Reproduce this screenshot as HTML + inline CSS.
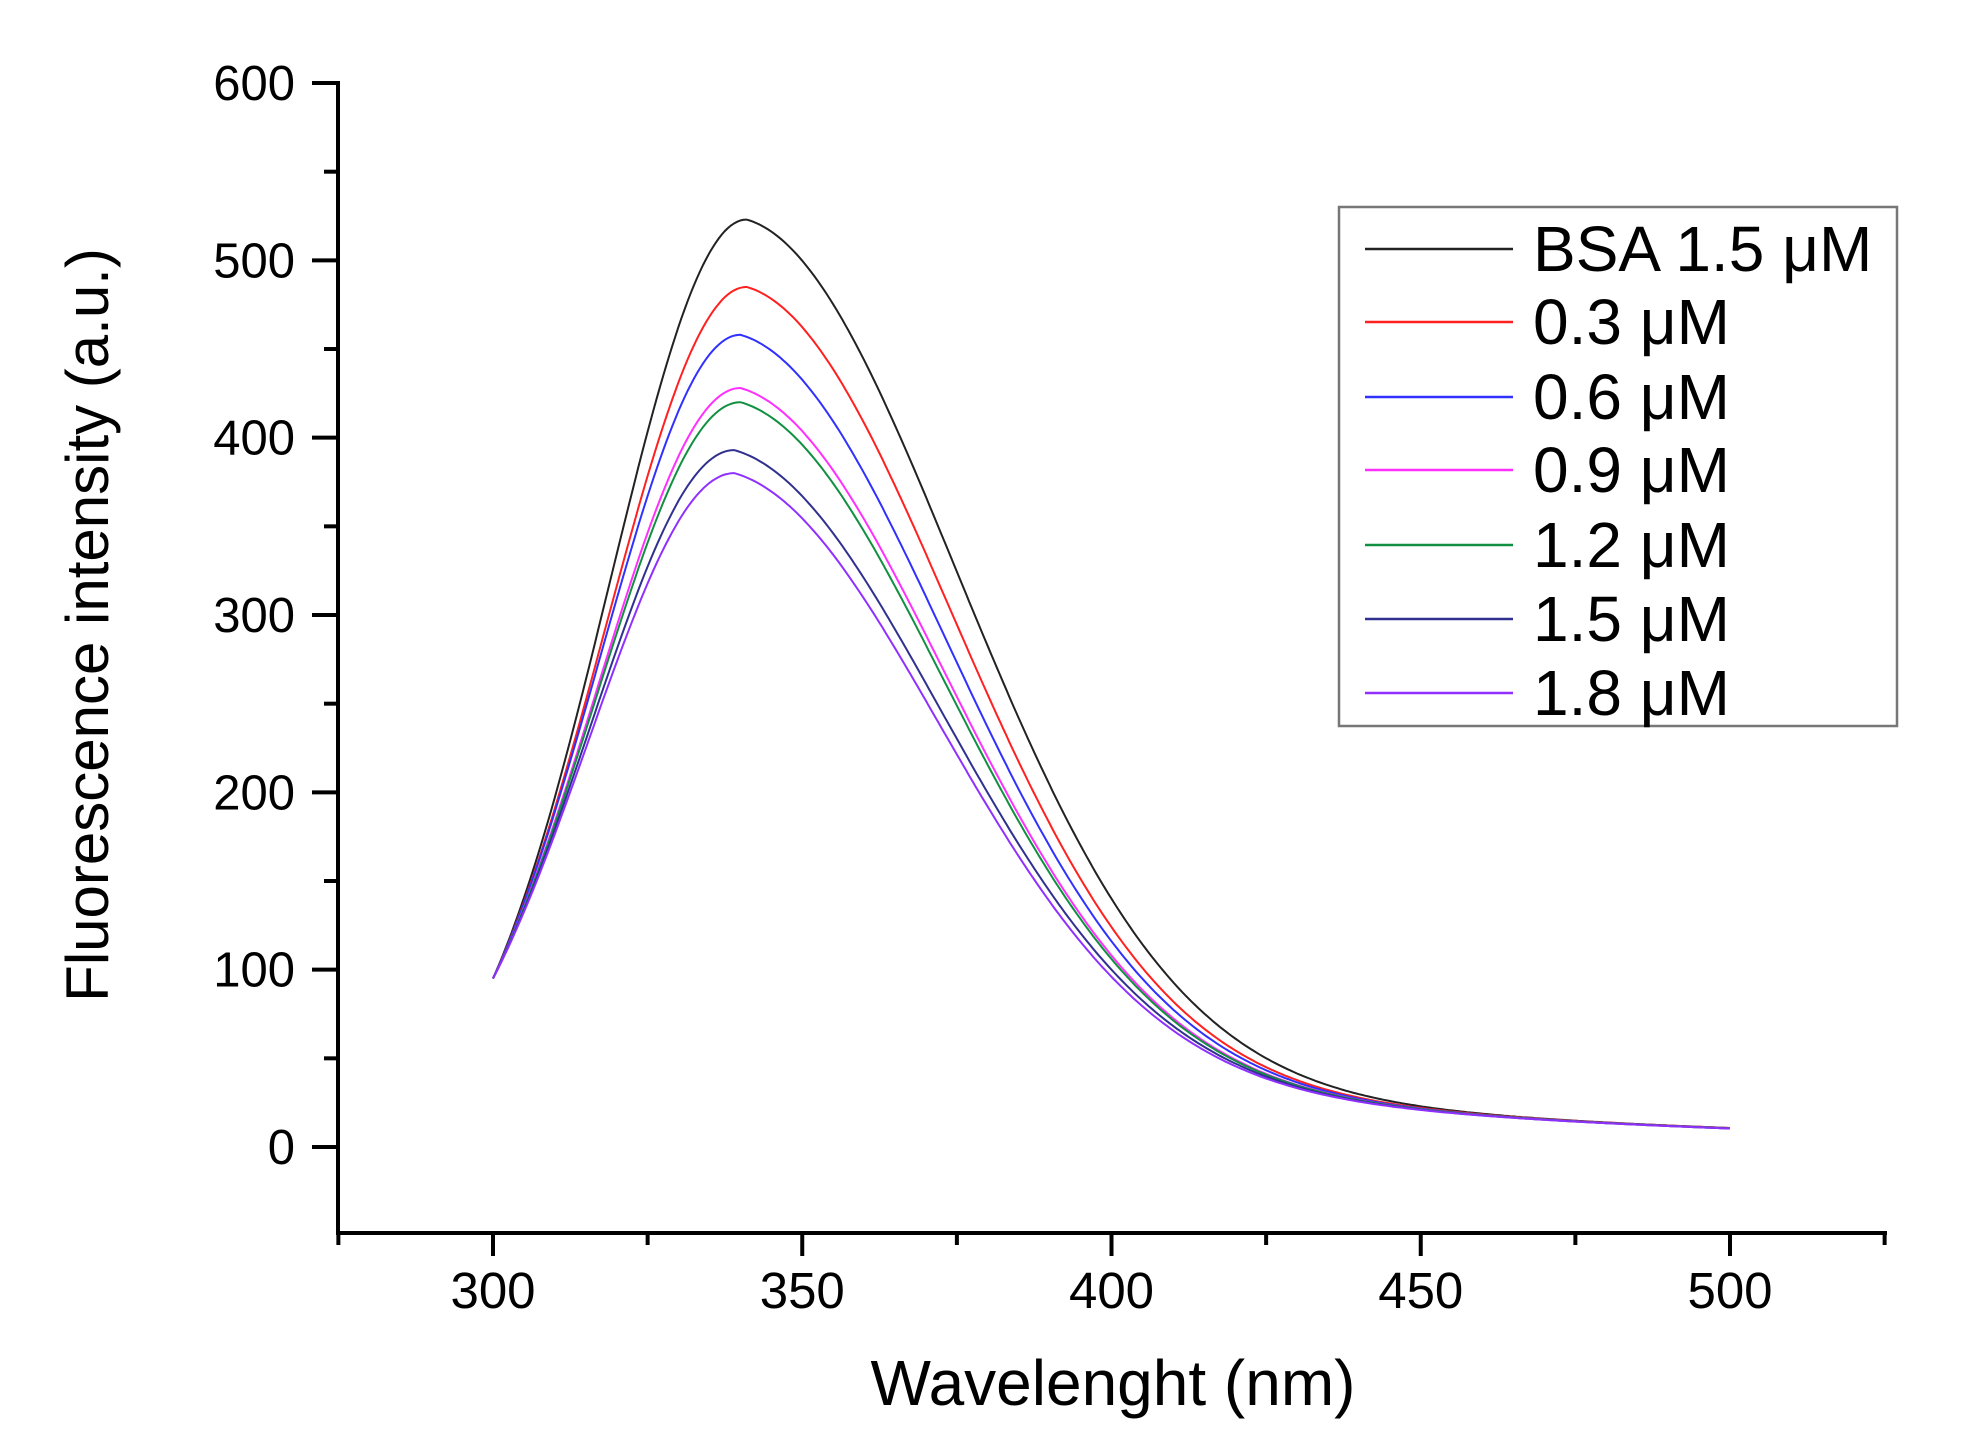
<!DOCTYPE html>
<html><head><meta charset="utf-8">
<style>
html,body{margin:0;padding:0;background:#fff;}
svg{display:block;}
text{font-family:"Liberation Sans",Arial,sans-serif;fill:#000;}
</style></head>
<body>
<svg id="s" width="1963" height="1448" viewBox="0 0 1963 1448" xmlns="http://www.w3.org/2000/svg">
<g id="axes" stroke="#000" stroke-width="4" fill="none">
  <line x1="338" y1="81" x2="338" y2="1235"/>
  <line x1="336" y1="1233" x2="1887" y2="1233"/>
</g>
<g id="ticks" stroke="#000" stroke-width="4"></g>
<g id="labels" font-size="49" text-anchor="end"></g>
<g id="xlabels" font-size="51" text-anchor="middle"></g>
<g id="curves" fill="none" stroke-width="2"></g>
<text x="1113" y="1405" font-size="64" text-anchor="middle">Wavelenght (nm)</text>
<text transform="translate(108,625) rotate(-90)" font-size="60" text-anchor="middle">Fluorescence intensity (a.u.)</text>
<rect x="1339" y="207" width="558" height="519" fill="#fff" stroke="#777" stroke-width="2.5"/>
<g id="legend" font-size="64"></g>
</svg>
<script>
const NS="http://www.w3.org/2000/svg";
function el(tag,attrs,parent,txt){const e=document.createElementNS(NS,tag);for(const k in attrs)e.setAttribute(k,attrs[k]);if(txt!==undefined)e.textContent=txt;parent.appendChild(e);return e;}
const X=l=>493+(l-300)*(1237/200);
const Y=v=>1147-v*1.7733;
const tk=document.getElementById('ticks'),lb=document.getElementById('labels'),xl=document.getElementById('xlabels');
for(let v=-50;v<=600;v+=50){
  if(v===-50)continue;
  const major=v%100===0;
  el('line',{x1:major?312:324,y1:Y(v),x2:338,y2:Y(v)},tk);
  if(major) el('text',{x:295,y:Y(v)+17},lb,String(v));
}
for(let l=275;l<=525;l+=25){
  const major=l%50===0;
  el('line',{x1:X(l),y1:1233,x2:X(l),y2:major?1256:1245},tk);
  if(major) el('text',{x:X(l),y:1308},xl,String(l));
}
const series=[
 ["#222222",523,341,140],
 ["#ff2020",485,341,124],
 ["#3030ff",458,340,116],
 ["#ff30ff",428,340,108],
 ["#109040",420,340,106],
 ["#303090",393,339,100],
 ["#9030ff",380,339,96]
];
const cg=document.getElementById('curves');
const Tt=78,tau=80;
series.forEach(([c,A,p,v400])=>{
  const dL=p-300;
  const sL=Math.sqrt(dL*dL/(2*Math.log(A/95)));
  const d4=400-p;
  const tail4=Tt*Math.exp(-d4/tau);
  const g=(v400-tail4)/(A-Tt);
  const sR=Math.sqrt(d4*d4/(2*Math.log(1/g)));
  let pts=[];
  for(let l=300;l<=500;l+=0.5){
    let f;
    if(l<=p){const d=p-l;f=A*Math.exp(-d*d/(2*sL*sL));}
    else{const d=l-p;f=(A-Tt)*Math.exp(-d*d/(2*sR*sR))+Tt*Math.exp(-d/tau);}
    pts.push(X(l).toFixed(1)+","+Y(f).toFixed(1));
  }
  el('polyline',{points:pts.join(" "),stroke:c},cg);
});
const lg=document.getElementById('legend');
const names=["BSA 1.5 μM","0.3 μM","0.6 μM","0.9 μM","1.2 μM","1.5 μM","1.8 μM"];
const rows=[249,322,397,470,545,619,693];
names.forEach((n,i)=>{
  el('line',{x1:1365,y1:rows[i],x2:1513,y2:rows[i],stroke:series[i][0],"stroke-width":2.5},lg);
  el('text',{x:1533,y:rows[i]+22},lg,n);
});
</script>
</body></html>
